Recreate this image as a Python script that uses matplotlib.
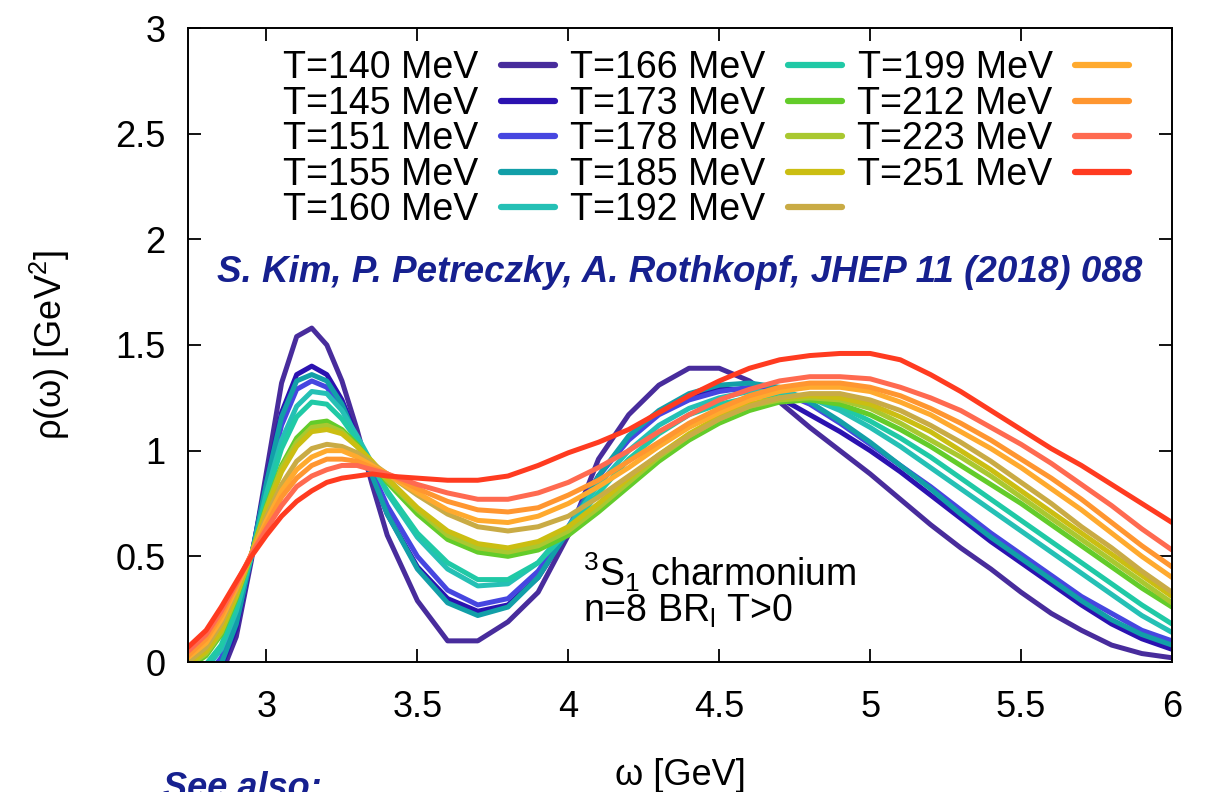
#
# charmonium spectral functions at T>0, BR method n=8

import numpy as np
import matplotlib.pyplot as plt

plt.rcParams['font.family'] = ['Liberation Sans', 'DejaVu Sans']
plt.rcParams['mathtext.fontset'] = 'custom'
plt.rcParams['mathtext.rm'] = 'Liberation Sans'
plt.rcParams['mathtext.it'] = 'Liberation Sans:italic'

# omega grid [GeV]
omega = [2.74, 2.8, 2.85, 2.9, 2.95, 3.0, 3.05, 3.1, 3.15, 3.2, 3.25, 3.3, 3.35, 3.4,
         3.5, 3.6, 3.7, 3.8, 3.9, 4.0, 4.1, 4.2, 4.3, 4.4, 4.5, 4.6, 4.7, 4.8, 4.9,
         5.0, 5.1, 5.2, 5.3, 5.4, 5.5, 5.6, 5.7, 5.8, 5.9, 6.0]

temps = [140, 145, 151, 155, 160, 166, 173, 178, 185, 192, 199, 212, 223, 251]

# rho(omega) [GeV^2]
rho_140 = [-0.20, -0.14, -0.06, 0.12, 0.48, 0.90, 1.32, 1.54, 1.58, 1.50, 1.33, 1.10, 0.84, 0.60,
           0.29, 0.10, 0.10, 0.19, 0.33, 0.60, 0.96, 1.17, 1.31, 1.39, 1.39, 1.33, 1.23, 1.11, 1.00,
           0.89, 0.77, 0.65, 0.54, 0.44, 0.33, 0.23, 0.15, 0.08, 0.04, 0.02]
rho_145 = [-0.16, -0.10, -0.02, 0.16, 0.50, 0.86, 1.18, 1.36, 1.40, 1.36, 1.24, 1.06, 0.88, 0.70,
           0.45, 0.30, 0.24, 0.27, 0.40, 0.62, 0.88, 1.06, 1.18, 1.25, 1.29, 1.29, 1.25, 1.17, 1.09,
           1.00, 0.90, 0.79, 0.68, 0.57, 0.47, 0.37, 0.27, 0.18, 0.11, 0.06]
rho_151 = [-0.12, -0.07, 0.02, 0.20, 0.50, 0.83, 1.12, 1.29, 1.33, 1.30, 1.20, 1.05, 0.90, 0.74,
           0.50, 0.34, 0.27, 0.30, 0.43, 0.64, 0.88, 1.05, 1.17, 1.24, 1.28, 1.30, 1.28, 1.22, 1.13,
           1.03, 0.93, 0.83, 0.72, 0.61, 0.51, 0.41, 0.31, 0.23, 0.15, 0.10]
rho_155 = [-0.14, -0.09, -0.01, 0.18, 0.50, 0.85, 1.16, 1.33, 1.36, 1.33, 1.22, 1.05, 0.88, 0.70,
           0.44, 0.28, 0.22, 0.26, 0.40, 0.62, 0.88, 1.07, 1.19, 1.27, 1.31, 1.32, 1.30, 1.23, 1.14,
           1.04, 0.93, 0.82, 0.70, 0.59, 0.49, 0.39, 0.29, 0.20, 0.13, 0.08]
rho_160 = [-0.08, -0.03, 0.06, 0.24, 0.50, 0.80, 1.05, 1.21, 1.28, 1.27, 1.19, 1.07, 0.94, 0.80,
           0.59, 0.44, 0.36, 0.37, 0.47, 0.64, 0.84, 1.00, 1.12, 1.20, 1.25, 1.28, 1.28, 1.25, 1.19,
           1.11, 1.02, 0.92, 0.82, 0.72, 0.62, 0.52, 0.42, 0.32, 0.22, 0.14]
rho_166 = [-0.06, -0.01, 0.08, 0.26, 0.50, 0.78, 1.01, 1.16, 1.23, 1.22, 1.15, 1.05, 0.93, 0.81,
           0.61, 0.47, 0.39, 0.39, 0.47, 0.62, 0.80, 0.96, 1.08, 1.17, 1.22, 1.25, 1.26, 1.25, 1.21,
           1.14, 1.06, 0.97, 0.87, 0.77, 0.67, 0.57, 0.47, 0.37, 0.27, 0.18]
rho_173 = [-0.03, 0.03, 0.13, 0.30, 0.51, 0.74, 0.93, 1.06, 1.13, 1.14, 1.10, 1.03, 0.94, 0.85,
           0.70, 0.58, 0.52, 0.50, 0.53, 0.60, 0.71, 0.83, 0.95, 1.05, 1.13, 1.19, 1.23, 1.24, 1.22,
           1.17, 1.10, 1.02, 0.93, 0.84, 0.75, 0.65, 0.55, 0.45, 0.35, 0.26]
rho_178 = [-0.02, 0.04, 0.14, 0.31, 0.51, 0.73, 0.92, 1.04, 1.11, 1.12, 1.09, 1.02, 0.94, 0.86,
           0.72, 0.60, 0.54, 0.52, 0.55, 0.62, 0.73, 0.85, 0.97, 1.07, 1.15, 1.21, 1.24, 1.25, 1.24,
           1.20, 1.13, 1.05, 0.97, 0.88, 0.78, 0.68, 0.58, 0.48, 0.38, 0.28]
rho_185 = [-0.01, 0.05, 0.15, 0.32, 0.51, 0.72, 0.90, 1.02, 1.09, 1.10, 1.08, 1.02, 0.95, 0.87,
           0.73, 0.62, 0.56, 0.54, 0.57, 0.64, 0.75, 0.87, 0.98, 1.08, 1.16, 1.22, 1.25, 1.26, 1.25,
           1.22, 1.16, 1.09, 1.00, 0.91, 0.81, 0.71, 0.61, 0.51, 0.41, 0.31]
rho_192 = [0.00, 0.07, 0.18, 0.34, 0.51, 0.69, 0.84, 0.95, 1.01, 1.03, 1.02, 0.99, 0.94, 0.89,
           0.79, 0.70, 0.64, 0.62, 0.64, 0.69, 0.78, 0.88, 0.98, 1.07, 1.15, 1.21, 1.25, 1.27, 1.27,
           1.24, 1.19, 1.12, 1.04, 0.95, 0.85, 0.75, 0.64, 0.54, 0.43, 0.33]
rho_199 = [0.02, 0.09, 0.20, 0.35, 0.51, 0.67, 0.81, 0.91, 0.97, 1.00, 1.00, 0.97, 0.93, 0.89,
           0.80, 0.72, 0.67, 0.66, 0.69, 0.75, 0.83, 0.92, 1.02, 1.11, 1.18, 1.24, 1.28, 1.30, 1.30,
           1.28, 1.23, 1.17, 1.09, 1.01, 0.92, 0.82, 0.72, 0.61, 0.50, 0.40]
rho_212 = [0.03, 0.11, 0.22, 0.36, 0.51, 0.65, 0.78, 0.87, 0.93, 0.96, 0.96, 0.95, 0.92, 0.89,
           0.82, 0.76, 0.72, 0.71, 0.73, 0.79, 0.86, 0.95, 1.04, 1.13, 1.20, 1.26, 1.30, 1.32, 1.32,
           1.30, 1.26, 1.20, 1.13, 1.05, 0.96, 0.87, 0.77, 0.66, 0.55, 0.45]
rho_223 = [0.05, 0.13, 0.24, 0.37, 0.51, 0.63, 0.74, 0.83, 0.88, 0.91, 0.93, 0.93, 0.91, 0.89,
           0.84, 0.80, 0.77, 0.77, 0.80, 0.85, 0.92, 1.00, 1.09, 1.17, 1.24, 1.29, 1.33, 1.35, 1.35,
           1.34, 1.30, 1.25, 1.19, 1.11, 1.03, 0.94, 0.84, 0.74, 0.63, 0.53]
rho_251 = [0.07, 0.15, 0.26, 0.38, 0.50, 0.60, 0.69, 0.76, 0.81, 0.85, 0.87, 0.88, 0.89, 0.88,
           0.87, 0.86, 0.86, 0.88, 0.93, 0.99, 1.04, 1.10, 1.18, 1.26, 1.33, 1.39, 1.43, 1.45, 1.46,
           1.46, 1.43, 1.36, 1.28, 1.19, 1.10, 1.01, 0.93, 0.84, 0.75, 0.66]

rho = [rho_140, rho_145, rho_151, rho_155, rho_160, rho_166, rho_173,
       rho_178, rho_185, rho_192, rho_199, rho_212, rho_223, rho_251]

colors = ['#482c9c', '#2b12b0', '#4646e0', '#129fa8', '#25c0b5', '#20c9a6', '#63cc2a',
          '#a9c830', '#cbbe12', '#c9ab45', '#ffaa2e', '#ff9630', '#ff6a50', '#ff3b20']

navy = '#16208f'

if __name__ == "__main__":
    W, H = 1207, 792
    fig = plt.figure(figsize=(W / 100, H / 100), dpi=100)
    ax = fig.add_axes([188 / W, (H - 662) / H, (1172 - 188) / W, (662 - 28) / H])

    for t, r, c in zip(temps, rho, colors):
        ax.plot(omega, r, color=c, lw=3.6, label='T=%d MeV' % t,
                solid_joinstyle='round', solid_capstyle='round')

    ax.set_xlim(2.74, 6)
    ax.set_ylim(0, 3)
    xt = [3, 3.5, 4, 4.5, 5, 5.5, 6]
    yt = [0, 0.5, 1, 1.5, 2, 2.5, 3]
    ax.set_xticks(xt)
    ax.set_xticklabels(['%g' % v for v in xt])
    ax.set_yticks(yt)
    ax.set_yticklabels(['%g' % v for v in yt])
    ax.tick_params(direction='in', length=9.5, width=1.3, top=True, right=True,
                   labelsize=26, color='black')
    ax.tick_params(axis='x', pad=20)
    ax.tick_params(axis='y', pad=16)
    for s in ax.spines.values():
        s.set_linewidth(1.4)

    ax.set_xlabel(u'\u03c9 [GeV]', fontsize=26)
    ax.xaxis.set_label_coords(0.5, -0.152)
    ax.set_ylabel(u'\u03c1(\u03c9) [GeV$^2$]', fontsize=26)
    ax.yaxis.set_label_coords(-0.118, 0.5)

    leg = ax.legend(loc='upper left', bbox_to_anchor=(283 / W, 1 - 50 / H),
                    bbox_transform=fig.transFigure, ncol=3, frameon=False,
                    markerfirst=False, fontsize=27, borderpad=0, borderaxespad=0,
                    handlelength=1.45, handletextpad=0.6, columnspacing=0.4,
                    labelspacing=-0.01)
    for h in leg.legend_handles:
        h.set_linewidth(4.5)

    ax.text(0.5, 1 - (272 - 28) / 634, 'S. Kim, P. Petreczky, A. Rothkopf, JHEP 11 (2018) 088',
            transform=ax.transAxes, ha='center', va='center', color=navy, fontsize=26.5,
            fontweight='bold', fontstyle='italic',
            family=['Liberation Sans Narrow', 'Liberation Sans'])

    ax.text(4.05, 0.36, '$^{3}$S$_{1}$ charmonium', fontsize=27, ha='left', va='baseline')
    ax.text(4.05, 0.19, 'n=8 BR$_{\\mathrm{l}}$ T>0', fontsize=27, ha='left', va='baseline')

    fig.text(163 / W, 1 - 771 / H, 'See also:', ha='left', va='top', color=navy,
             fontsize=26, fontweight='bold', fontstyle='italic')

    fig.savefig('out.png', dpi=100)
